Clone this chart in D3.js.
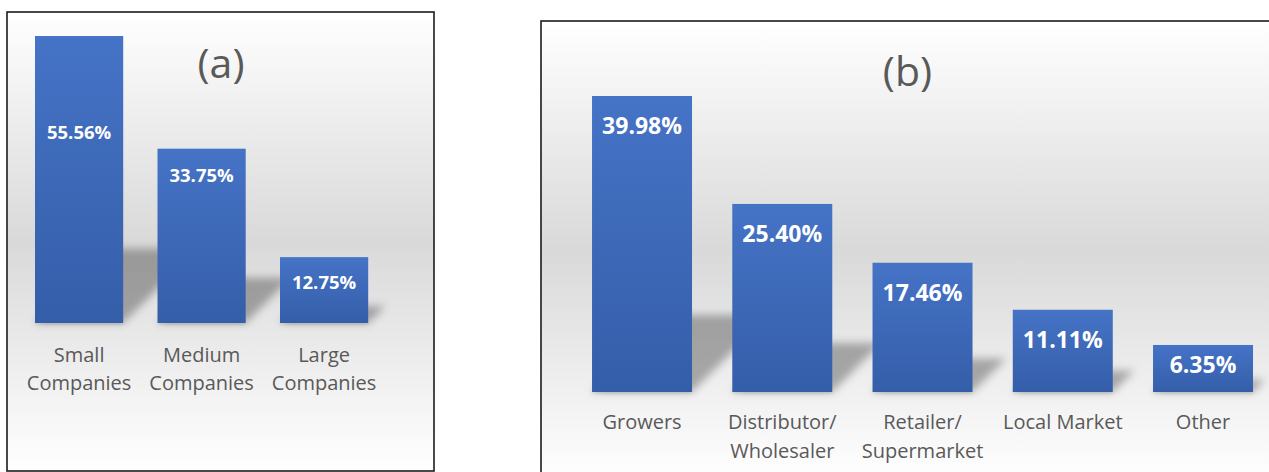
<!DOCTYPE html>
<html>
<head>
<meta charset="utf-8">
<script src="https://cdn.jsdelivr.net/npm/d3@7"></script>
<style>
  html, body { margin: 0; padding: 0; background: #ffffff; }
  svg { display: block; }
  text { font-family: "Open Sans", "Noto Sans", sans-serif; }
</style>
</head>
<body>
<script>
// Panel (a): company size
const sizeCategories = [["Small", "Companies"], ["Medium", "Companies"], ["Large", "Companies"]];
const sizeValues = [55.56, 33.75, 12.75];
const sizeLabels = ["55.56%", "33.75%", "12.75%"];

// Panel (b): supply-chain role
const roleCategories = [["Growers"], ["Distributor/", "Wholesaler"], ["Retailer/", "Supermarket"], ["Local Market"], ["Other"]];
const roleValues = [39.98, 25.40, 17.46, 11.11, 6.35];
const roleLabels = ["39.98%", "25.40%", "17.46%", "11.11%", "6.35%"];

const W = 1269, H = 472;
const svg = d3.select("body").append("svg").attr("width", W).attr("height", H);
const defs = svg.append("defs");

// soft grey backdrop: white -> grey -> white
const bg = defs.append("linearGradient").attr("id", "bgGrad")
  .attr("x1", 0).attr("y1", 0).attr("x2", 0).attr("y2", 1);
bg.append("stop").attr("offset", "0%").attr("stop-color", "#ffffff");
bg.append("stop").attr("offset", "50%").attr("stop-color", "#d9d9d9");
bg.append("stop").attr("offset", "100%").attr("stop-color", "#ffffff");

// bar fill: lighter blue at the top
const bar = defs.append("linearGradient").attr("id", "barGrad")
  .attr("x1", 0).attr("y1", 0).attr("x2", 0).attr("y2", 1);
bar.append("stop").attr("offset", "0%").attr("stop-color", "#4573c6");
bar.append("stop").attr("offset", "100%").attr("stop-color", "#355ea9");

defs.append("filter").attr("id", "shadowBlur")
  .attr("x", "-50%").attr("y", "-50%").attr("width", "200%").attr("height", "200%")
  .append("feGaussianBlur").attr("stdDeviation", 4);

defs.append("filter").attr("id", "footBlur")
  .attr("x", "-20%").attr("y", "-20%").attr("width", "140%").attr("height", "140%")
  .append("feGaussianBlur").attr("stdDeviation", 1.5);

function drawPanel(cfg) {
  const g = svg.append("g");

  // frame and background
  g.append("rect")
    .attr("x", cfg.frame.x).attr("y", cfg.frame.y)
    .attr("width", cfg.frame.w).attr("height", cfg.frame.h)
    .attr("fill", "url(#bgGrad)")
    .attr("stroke", "#1c1c1c").attr("stroke-width", 1.6);

  const x = d3.scaleBand()
    .domain(d3.range(cfg.values.length))
    .range(cfg.xRange)
    .paddingInner(cfg.padInner)
    .paddingOuter(cfg.padInner / 2);

  const y = d3.scaleLinear().domain(cfg.yDomain).range(cfg.yRange);
  const base = y(0);

  // perspective shadows cast back and to the right of each bar
  g.append("g").attr("filter", "url(#shadowBlur)")
    .selectAll("path").data(cfg.values).join("path")
    .attr("d", (d, i) => {
      const x0 = x(i), x1 = x(i) + x.bandwidth();
      const h = (base - y(d)) * 0.26;
      const dx = h;
      return `M${x0},${base}L${x1},${base}L${x1 + dx},${base - h}L${x0 + dx},${base - h}Z`;
    })
    .attr("fill", "#000").attr("fill-opacity", 0.3);

  // faint contact shadow along the foot of each bar
  g.append("g").attr("filter", "url(#footBlur)")
    .selectAll("rect").data(cfg.values).join("rect")
    .attr("x", (d, i) => x(i))
    .attr("y", base - 2)
    .attr("width", x.bandwidth())
    .attr("height", 4)
    .attr("fill", "#000").attr("fill-opacity", 0.08);

  // bars
  g.append("g").selectAll("rect").data(cfg.values).join("rect")
    .attr("x", (d, i) => x(i))
    .attr("y", d => y(d))
    .attr("width", x.bandwidth())
    .attr("height", d => base - y(d))
    .attr("fill", "url(#barGrad)");

  // value labels inside the bars
  g.append("g").selectAll("text").data(cfg.values).join("text")
    .attr("x", (d, i) => x(i) + x.bandwidth() / 2)
    .attr("y", d => Math.max(cfg.labelFloor,
                             Math.min(y(d) + cfg.labelDrop, base - cfg.labelLift)))
    .attr("text-anchor", "middle")
    .attr("fill", "#ffffff")
    .attr("font-weight", 700)
    .attr("font-size", cfg.valueFont + "px")
    .text((d, i) => cfg.labels[i]);

  // category labels under the bars
  const cats = g.append("g").selectAll("text").data(cfg.categories).join("text")
    .attr("text-anchor", "middle")
    .attr("fill", "#595959")
    .attr("font-size", "20px");
  cats.each(function(lines, i) {
    d3.select(this).selectAll("tspan").data(lines).join("tspan")
      .attr("x", x(i) + x.bandwidth() / 2)
      .attr("y", (t, j) => base + cfg.catGap + j * cfg.catLine)
      .text(t => t);
  });

  // panel title
  g.append("text")
    .attr("x", cfg.title.x).attr("y", cfg.title.y)
    .attr("text-anchor", "middle")
    .attr("fill", "#595959")
    .attr("font-size", "41px")
    .text(cfg.title.text);
}

drawPanel({
  frame: { x: 7, y: 12, w: 427, h: 459 },
  values: sizeValues, labels: sizeLabels, categories: sizeCategories,
  xRange: [17.85, 385.35], padInner: 0.28,
  yDomain: [0, 60], yRange: [323, 13.1],
  labelDrop: 33.5, labelLift: 33.7, labelFloor: 139.3, valueFont: 18.5,
  catGap: 38.5, catLine: 28.5,
  title: { text: "(a)", x: 221, y: 78 }
});

drawPanel({
  frame: { x: 541, y: 21, w: 760, h: 460 },
  values: roleValues, labels: roleLabels, categories: roleCategories,
  xRange: [571.9, 1273.15], padInner: 0.287,
  yDomain: [0, 40], yRange: [392, 95.85],
  labelDrop: 38, labelLift: 19.5, labelFloor: 0, valueFont: 23,
  catGap: 37.3, catLine: 29,
  title: { text: "(b)", x: 907.5, y: 86 }
});
</script>
</body>
</html>
